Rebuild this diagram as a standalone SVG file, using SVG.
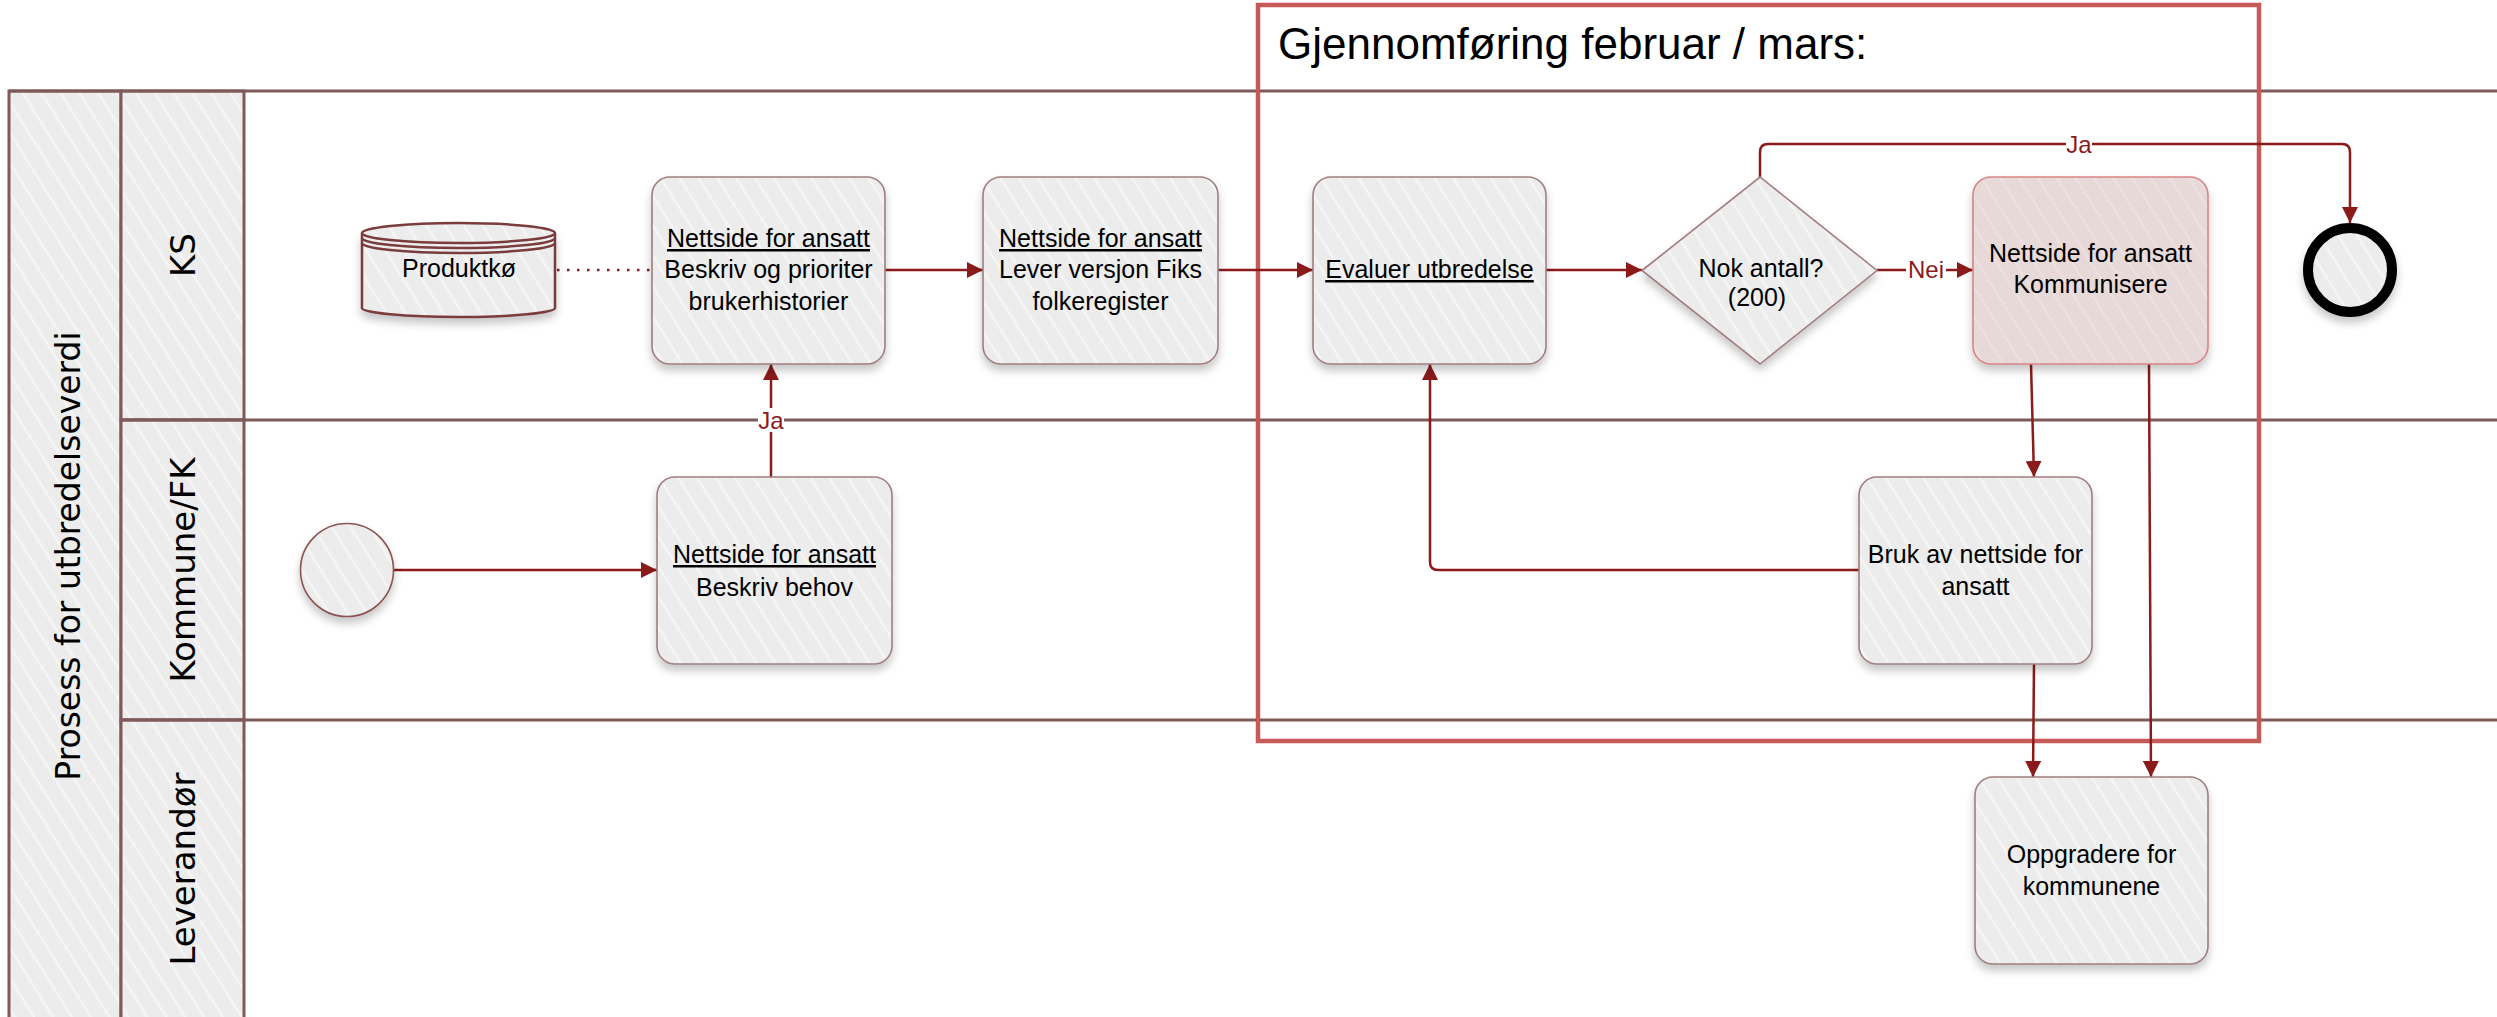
<svg xmlns="http://www.w3.org/2000/svg" width="2497" height="1017" viewBox="0 0 2497 1017">
<style>
.lane{fill:none;stroke:#7E5A5A;stroke-width:3}
.hdr{fill:url(#hatch);stroke:#7E5A5A;stroke-width:3}
.hdrtxt{font-family:"DejaVu Sans",sans-serif;font-size:34px;fill:#000;text-anchor:middle}
.node{fill:url(#hatch);stroke:#A07E7E;stroke-width:1.6;filter:url(#sh)}
.pink{fill:url(#hatchp);stroke:#D88484;stroke-width:1.6;filter:url(#sh)}
.t{font-family:"Liberation Sans",Arial,sans-serif;font-size:25px;fill:#000;text-anchor:middle}
.u{text-decoration:underline}
.c{fill:none;stroke:#8B1A1A;stroke-width:2.5}
.lbl{font-family:"Liberation Sans",Arial,sans-serif;font-size:24px;fill:#8B1A1A;text-anchor:middle}
</style>
<defs>
<pattern id="hatch" width="16" height="16" patternUnits="userSpaceOnUse" patternTransform="rotate(-32)">
<rect width="16" height="16" fill="#ECECEC"/>
<line x1="2" y1="0" x2="2" y2="16" stroke="#F5F5F5" stroke-width="2.5"/>
</pattern>
<pattern id="hatchp" width="16" height="16" patternUnits="userSpaceOnUse" patternTransform="rotate(-32)">
<rect width="16" height="16" fill="#E8D9D9"/>
<line x1="2" y1="0" x2="2" y2="16" stroke="#EDE0E0" stroke-width="2.5"/>
</pattern>
<filter id="sh" x="-15%" y="-15%" width="130%" height="135%">
<feDropShadow dx="0" dy="6" stdDeviation="4" flood-color="#000" flood-opacity="0.22"/>
</filter>
<marker id="arr" viewBox="0 0 16 16" refX="16" refY="8" markerWidth="16" markerHeight="16" markerUnits="userSpaceOnUse" orient="auto">
<path d="M0,0 L16,8 L0,16 z" fill="#8B1A1A"/>
</marker>
</defs>

<g id="pool">
<rect class="hdr" x="9" y="91" width="112" height="940"/>
<rect class="hdr" x="121" y="91" width="123" height="329"/>
<rect class="hdr" x="121" y="420" width="123" height="300"/>
<rect class="hdr" x="121" y="720" width="123" height="310"/>
<line class="lane" x1="9" y1="91" x2="2497" y2="91"/>
<line class="lane" x1="121" y1="420" x2="2497" y2="420"/>
<line class="lane" x1="121" y1="720" x2="2497" y2="720"/>
<text class="hdrtxt" font-size="33" transform="translate(80,556) rotate(-90)" style="font-size:33px">Prosess for utbredelseverdi</text>
<text class="hdrtxt" transform="translate(195,255) rotate(-90)">KS</text>
<text class="hdrtxt" transform="translate(195,570) rotate(-90)">Kommune/FK</text>
<text class="hdrtxt" transform="translate(195,869) rotate(-90)">Leverandør</text>
</g>

<g id="phase">
<rect x="1258" y="5" width="1001" height="736" fill="none" stroke="#C55A58" stroke-width="4.5"/>
<text x="1278" y="59" font-family="'Liberation Sans',Arial,sans-serif" font-size="44" fill="#000">Gjennomføring februar / mars:</text>
</g>

<g id="connectors">
<path class="c" d="M557,270 H650" stroke-dasharray="2.5 7.5"/>
<path class="c" d="M885,270 H983" marker-end="url(#arr)"/>
<path class="c" d="M1218,270 H1313" marker-end="url(#arr)"/>
<path class="c" d="M1546,270 H1642" marker-end="url(#arr)"/>
<path class="c" d="M1877,270 H1973" marker-end="url(#arr)"/>
<path class="c" d="M1760,177 V152 Q1760,144 1768,144 H2342 Q2350,144 2350,152 V223" marker-end="url(#arr)"/>
<path class="c" d="M2031,364 L2034,477" marker-end="url(#arr)"/>
<path class="c" d="M2149,364 L2151,777" marker-end="url(#arr)"/>
<path class="c" d="M2034,664 L2033,777" marker-end="url(#arr)"/>
<path class="c" d="M1859,570 H1438 Q1430,570 1430,562 V364" marker-end="url(#arr)"/>
<path class="c" d="M394,570 H657" marker-end="url(#arr)"/>
<path class="c" d="M771,477 V364" marker-end="url(#arr)"/>
<rect x="758" y="408" width="26" height="24" fill="#fff"/>
<text class="lbl" x="771" y="429">Ja</text>
<rect x="2066" y="132" width="26" height="24" fill="#fff"/>
<text class="lbl" x="2079" y="153">Ja</text>
<rect x="1906" y="258" width="40" height="24" fill="#fff"/>
<text class="lbl" x="1926" y="278">Nei</text>
</g>

<g id="produktko">
<path d="M362,233 V308 A96.5,9 0 0 0 555,308 V233" fill="url(#hatch)" stroke="#7A3C3C" stroke-width="2.5" filter="url(#sh)"/>
<ellipse cx="458.5" cy="233" rx="96.5" ry="10" fill="url(#hatch)" stroke="#7A3C3C" stroke-width="2.5"/>
<path d="M362,238 A96.5,10 0 0 0 555,238 M362,243 A96.5,10 0 0 0 555,243" fill="none" stroke="#7A3C3C" stroke-width="2.5"/>
<text class="t" x="459" y="277">Produktkø</text>
</g>

<g id="n-prioriter">
<rect class="node" x="652" y="177" width="233" height="187" rx="18"/>
<text class="t" x="768.5" y="247"><tspan class="u">Nettside for ansatt</tspan></text>
<text class="t" x="768.5" y="278">Beskriv og prioriter</text>
<text class="t" x="768.5" y="310">brukerhistorier</text>
</g>

<g id="n-lever">
<rect class="node" x="983" y="177" width="235" height="187" rx="18"/>
<text class="t" x="1100.5" y="247"><tspan class="u">Nettside for ansatt</tspan></text>
<text class="t" x="1100.5" y="278">Lever versjon Fiks</text>
<text class="t" x="1100.5" y="310">folkeregister</text>
</g>

<g id="n-evaluer">
<rect class="node" x="1313" y="177" width="233" height="187" rx="18"/>
<text class="t" x="1429.5" y="278"><tspan class="u">Evaluer utbredelse</tspan></text>
</g>

<g id="n-nok">
<path class="node" d="M1642,270.5 L1760,177 L1877,270.5 L1760,364 Z"/>
<text class="t" x="1761" y="277">Nok antall?</text>
<text class="t" x="1757" y="306">(200)</text>
</g>

<g id="n-kommunisere">
<rect class="pink" x="1973" y="177" width="235" height="187" rx="18"/>
<text class="t" x="2090.5" y="262">Nettside for ansatt</text>
<text class="t" x="2090.5" y="293">Kommunisere</text>
</g>

<g id="n-end">
<circle cx="2350" cy="270" r="42" fill="url(#hatch)" stroke="#000" stroke-width="10" filter="url(#sh)"/>
</g>

<g id="n-start">
<circle cx="347" cy="570" r="46.5" fill="url(#hatch)" stroke="#8B5252" stroke-width="1.6" filter="url(#sh)"/>
</g>

<g id="n-behov">
<rect class="node" x="657" y="477" width="235" height="187" rx="18"/>
<text class="t" x="774.5" y="563"><tspan class="u">Nettside for ansatt</tspan></text>
<text class="t" x="774.5" y="596">Beskriv behov</text>
</g>

<g id="n-bruk">
<rect class="node" x="1859" y="477" width="233" height="187" rx="18"/>
<text class="t" x="1975.5" y="563">Bruk av nettside for</text>
<text class="t" x="1975.5" y="595">ansatt</text>
</g>

<g id="n-oppgradere">
<rect class="node" x="1975" y="777" width="233" height="187" rx="18"/>
<text class="t" x="2091.5" y="863">Oppgradere for</text>
<text class="t" x="2091.5" y="895">kommunene</text>
</g>
</svg>
